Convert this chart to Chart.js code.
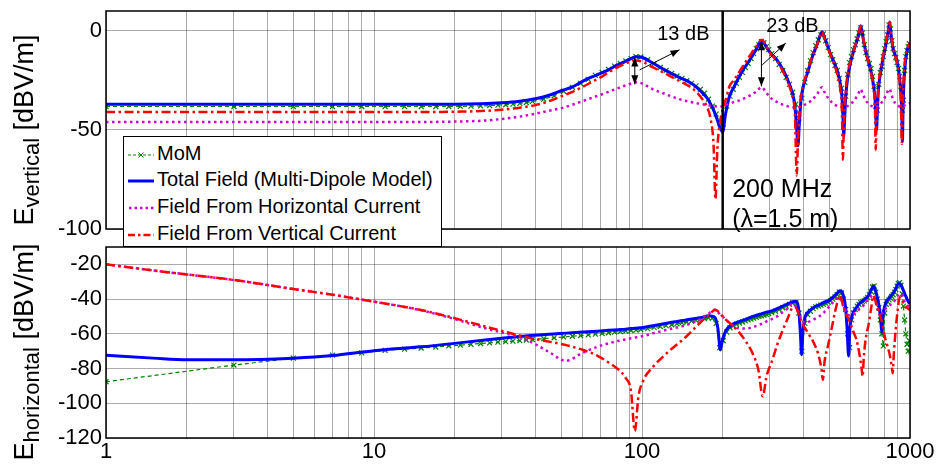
<!DOCTYPE html>
<html>
<head>
<meta charset="utf-8">
<title>E-field vs frequency</title>
<script src="https://cdn.jsdelivr.net/npm/chart.js@4/dist/chart.umd.min.js"></script>
<style>
  html, body { margin: 0; padding: 0; background: #fff; }
  #wrap { position: relative; width: 941px; height: 465px; overflow: hidden;
          font-family: "Liberation Sans", Arial, sans-serif; color: #000; }
  canvas { position: absolute; left: 0; }
  #topChart { top: 0; }
  #bottomChart { top: 240px; }
  .ytitle { position: absolute; white-space: nowrap; line-height: 1;
            transform: translate(-50%, -50%) rotate(-90deg); font-size: 27px; }
  .ytitle sub { font-size: 22px; vertical-align: -0.3em; }
  #legend { position: absolute; left: 123px; top: 136px; width: 317px; height: 109px;
            border: 1.5px solid #000; background: #fff; font-size: 20px; z-index: 5; }
  #legend .row { position: absolute; left: 4px; height: 27px; line-height: 27px; white-space: nowrap; }
  #legend svg { vertical-align: middle; margin-right: 3px; }
</style>
</head>
<body>
<div id="wrap">
  <canvas id="topChart" width="941" height="240"></canvas>
  <canvas id="bottomChart" width="941" height="225"></canvas>
  <div class="ytitle" style="left:27px; top:130px;">E<sub>vertical</sub> [dBV/m]</div>
  <div class="ytitle" style="left:27px; top:352px;">E<sub>horizontal</sub> [dBV/m]</div>
  <div id="legend"></div>
</div>
<script>
// ---------- data ----------
const xTickValues = [1, 2, 3, 4, 5, 6, 7, 8, 9, 10, 20, 30, 40, 50, 60, 70, 80, 90,
  100, 200, 300, 400, 500, 600, 700, 800, 900, 1000];
const xMajorTicks = [1, 10, 100, 1000];
const xTickLabels = ['1', '10', '100', '1000'];
const yTicksTop = [-100, -50, 0];
const yTicksBottom = [-120, -100, -80, -60, -40, -20];

const seriesNames = ['MoM', 'Total Field (Multi-Dipole Model)',
  'Field From Horizontal Current', 'Field From Vertical Current'];

// upper panel: E vertical (model curves)
const freqTop = [1, 2, 5, 10, 15, 20, 25, 30, 35, 40,
  45, 50, 55, 60, 65, 70, 75, 80, 85, 90,
  95, 100, 105, 110, 120, 130, 140, 150, 160, 170,
  175, 180, 185, 188, 191, 195, 200, 205, 212, 220,
  235, 250, 265, 280, 290, 300, 320, 340, 355, 365,
  372, 378, 382, 386, 392, 400, 415, 430, 450, 470,
  480, 495, 510, 525, 540, 550, 557, 562, 566, 570,
  576, 585, 600, 620, 640, 655, 665, 680, 700, 715,
  730, 740, 745, 750, 755, 762, 775, 790, 810, 830,
  840, 850, 865, 880, 900, 915, 925, 932, 937, 942,
  950, 965, 980, 1000];
const totalTop = [-37, -37, -37, -37, -37, -37, -36.8, -36.3, -35.5, -34.3,
  -32.5, -30.2, -28.3, -25.5, -23.3, -21.5, -19.7, -17.6, -16, -14.3,
  -13.1, -13.3, -14.8, -16.4, -19.3, -21.8, -24, -25.8, -28.5, -32,
  -34, -36.8, -40, -42.5, -45, -48.5, -51, -42, -33, -28.5,
  -21, -15.5, -10, -5, -7.8, -10.8, -15, -21, -27, -32,
  -38, -50, -58, -48, -35, -28, -21, -14, -7, -0.5,
  -3.5, -8.5, -13, -17, -22, -27, -33, -42, -53, -45,
  -33, -24, -16, -9, -3, 2.5, -2, -9, -15.5, -20.5,
  -27, -34, -42, -50, -42, -30, -22, -15, -8, 0,
  4.5, -2, -9, -12, -17, -24, -32, -42, -56, -40,
  -25, -14, -9, -6];
const horizTop = [-46, -46, -46, -46, -46, -45.8, -45.4, -44.5, -43.3, -41.8,
  -40.3, -39, -37.3, -35.5, -33.8, -32.3, -30.8, -29.3, -28, -26.8,
  -26, -26.5, -28, -29.5, -31.5, -33.3, -34.8, -35.7, -36.5, -37.2,
  -37.5, -37.8, -38, -38.1, -38.2, -38.2, -38, -37.5, -36.8, -36,
  -34.8, -33, -31, -28.5, -31, -33.5, -36, -37.6, -38.3, -38.6,
  -38.7, -38.7, -38.6, -38.5, -38.2, -37.6, -36.6, -35, -32, -28.5,
  -31, -34, -36, -37.4, -38, -38.3, -38.4, -38.4, -38.4, -38.3,
  -38.2, -38, -37, -35, -32, -29.5, -31.5, -34.5, -36.8, -37.8,
  -38.2, -38.3, -38.3, -38.2, -38.1, -37.8, -37, -35.5, -33, -30,
  -29.3, -31.5, -34.5, -36.5, -37.8, -38.2, -38.3, -38.3, -38.2, -38.1,
  -37.8, -37.2, -36.8, -36.5];
const vertTop = [-41, -41, -41, -41, -41, -40.8, -40.5, -39.8, -38.8, -37.5,
  -35.5, -33, -30.8, -28.3, -25.8, -23.5, -21, -18.8, -17, -15.6,
  -15, -15.5, -17, -18.5, -21, -23.5, -25.8, -28, -31, -35.5,
  -38.5, -44, -58, -85, -60, -47, -40, -35, -28, -25,
  -19, -13.5, -8.5, -4.5, -7.5, -11, -15.5, -22, -28, -34,
  -42, -73, -55, -44, -33, -27, -20, -13.5, -7, -0.5,
  -4, -9, -13.5, -18, -24, -30, -40, -65, -50, -40,
  -30, -22, -15, -8.5, -3, 2.5, -2, -9, -16, -21,
  -29, -38, -60, -45, -38, -28, -20, -14, -7, 0.5,
  4.5, -2, -9, -12.5, -18, -26, -36, -57, -45, -32,
  -20, -12, -8.5, -6];

// lower panel: E horizontal (model curves)
const freqBottom = [1, 1.5, 2, 3, 5, 7, 10, 15, 20, 26,
  30, 35, 40, 45, 52, 60, 68, 75, 82, 87,
  91, 94, 97, 101, 110, 125, 146, 165, 178, 187,
  192, 196, 200, 206, 215, 230, 245, 260, 272, 282,
  292, 305, 320, 335, 350, 365, 375, 385, 390, 394,
  398, 405, 420, 440, 455, 467, 473, 480, 495, 510,
  525, 540, 548, 560, 575, 583, 590, 596, 610, 630,
  645, 660, 666, 672, 685, 700, 715, 730, 740, 755,
  770, 780, 785, 792, 805, 820, 840, 855, 862, 870,
  885, 900, 915, 930, 945, 960, 975, 990, 1000];
const totalBottom = [-72.3, -74, -75, -75, -74, -72.5, -69.7, -67.5, -65.5, -63.5,
  -62.5, -61.5, -60.8, -60.2, -59.6, -59, -58.5, -58, -57.6, -57.3,
  -57, -56.8, -56.6, -56.3, -55.3, -53.8, -52, -50.8, -49.6, -50.5,
  -57, -69.3, -63, -58, -55, -53, -51.5, -50, -49, -48.2,
  -47.5, -46.8, -45.5, -44, -42.8, -41.5, -41.2, -47, -60, -72,
  -60, -51, -47, -44.5, -43.5, -42.7, -42.2, -41.7, -41, -39.5,
  -37.8, -36, -35.2, -36.5, -45, -58, -72.8, -58, -49, -45,
  -42.8, -41.5, -41, -40.5, -39.5, -38, -35, -32.5, -34, -39,
  -46, -55, -59, -50, -44, -41, -39, -37.5, -37, -36,
  -34, -31.5, -31, -32.5, -35, -37.5, -40, -42, -42.5];
const horizBottom = [-20, -23.5, -25.8, -29, -34.2, -37.5, -41.5, -46.5, -51.5, -56.8,
  -59.3, -62, -66, -70.5, -75.5, -71, -67.5, -65.5, -64, -63.2,
  -62.6, -62.2, -61.8, -61.3, -59.7, -57.5, -55, -51.5, -48.2, -46,
  -47.5, -49, -50, -52, -54.5, -56.8, -57, -56, -55, -54,
  -52.8, -51.5, -49.8, -47.5, -45.3, -42.5, -44.5, -48, -50, -51.5,
  -52.5, -53.5, -53, -51.5, -50.2, -49, -48.2, -47.3, -45, -42.8,
  -40.5, -38.8, -39.5, -43, -47, -48.5, -49.2, -49.5, -49, -47.5,
  -46, -44.8, -44.4, -43.5, -41.5, -40, -38.5, -37.7, -40.5, -45,
  -47.5, -48.2, -48.2, -47.5, -46, -44.8, -43.5, -42.8, -42.5, -41.8,
  -39.8, -38, -36.8, -37.5, -40, -42, -43.5, -44, -44.3];
const vertBottom = [-20, -23.5, -25.8, -29, -34.2, -37.5, -41.5, -46.3, -51, -55.8,
  -58.3, -61, -63, -64.5, -66.5, -69.2, -72.5, -76.5, -80.8, -85.5,
  -93, -116, -96, -87, -79, -70.5, -61.7, -53.5, -49, -46.3,
  -47, -48.5, -50, -52, -54.5, -59, -64.8, -72, -81, -96,
  -84, -76, -66, -58, -51, -45, -45, -49, -51, -53,
  -54.5, -56.5, -60.5, -66, -72, -80, -86.5, -76, -66.5, -57,
  -47.5, -40, -37.7, -42.5, -48, -50, -51.5, -53, -57.5, -63,
  -70, -80, -84.6, -74, -62, -55, -46, -38, -40, -45,
  -49, -51.5, -53, -56, -61.5, -66, -72, -79, -82.7, -72,
  -57, -46, -39, -40, -42.5, -44, -45, -45.8, -46.3];

// MoM reference samples (both panels share the frequencies)
const freqMoM = [1, 3, 5, 7, 9, 11, 13, 15, 17, 19, 21, 23, 25, 27, 29, 31, 33, 35, 37, 39,
  43, 47, 51, 55, 59, 63, 67, 71, 75, 79, 83, 87, 91, 95, 99,
  105, 111, 117, 123, 129, 135, 141, 147, 153, 159, 165, 171, 177, 183, 189, 195,
  201, 207, 213, 219, 225, 231, 237, 243, 249, 255, 261, 267, 273, 279, 285, 291, 297,
  305, 315, 325, 335, 345, 355, 365, 375, 385, 395, 405, 415, 425, 435, 445, 455, 465, 475, 485, 495,
  505, 515, 525, 535, 545, 555, 565, 575, 585, 595, 605, 615, 625, 635, 645, 655, 665, 675, 685, 695,
  705, 715, 725, 735, 745, 755, 765, 775, 785, 795, 805, 815, 825, 835, 845, 855, 865, 875, 885, 895,
  905, 915, 925, 935, 945, 955, 965, 975, 985, 995];
const momTop = [-38.2, -38.2, -38.2, -38.2, -38.2, -38.2, -38.2, -38.2, -38.2, -38.2,
  -38.1, -38, -37.9, -37.7, -37.5, -37.3, -37, -36.6, -36.2, -35.6,
  -34.5, -32.8, -30.5, -28.5, -26.5, -24.5, -22.5, -21, -19.5, -17.8, -16.5, -15.2, -14, -13, -13.2,
  -14.5, -16.6, -18.5, -20, -21.5, -22.8, -24, -25.2, -26.5, -27.8, -29.5, -31.5, -34.5, -38, -42, -46.5,
  -47, -38, -33, -29.5, -26.5, -23.5, -21, -18.5, -16.5, -14, -11.5, -9, -7, -5.5, -6, -8, -9.5,
  -11.5, -14, -17, -20, -23.5, -27, -31, -37, -44, -34, -26, -20, -15, -11, -7.5, -4.5, -2, -1.5, -5, -8.5,
  -12, -14.5, -17.5, -20, -24, -29, -42, -33, -22, -16, -13, -9.5, -7, -4, -1, 1.5, -1, -7, -11, -14,
  -16.5, -19, -23, -28, -38, -40, -27, -21, -18, -13, -9, -5.5, -2, 3, 1, -5, -9, -11.5, -13.5, -16,
  -19, -23, -28, -40, -35, -20, -13, -10, -8, -6.5];
const momBottom = [-87.6, -78, -74, -72.3, -71, -69.5, -68.8, -68.2, -67.6, -67,
  -66.5, -66, -65.6, -65.2, -64.8, -64.5, -64.2, -63.9, -63.6, -63.3,
  -62.8, -62.3, -61.8, -61.4, -61, -60.6, -60.2, -59.8, -59.4, -59, -58.7, -58.4, -58.1, -57.8, -57.5,
  -57, -56.3, -55.8, -55.3, -54.8, -54.2, -53.7, -53.2, -52.7, -52.2, -51.7, -51.2, -50.8, -51, -54, -68,
  -64, -59, -56.5, -55.5, -54.5, -53.8, -53.2, -52.6, -52, -51.5, -51, -50.5, -50, -49.6, -49.2, -48.8, -48.4,
  -47.8, -47, -46, -45, -44, -43, -42.2, -42, -48, -70, -54, -49, -47, -45.5, -44.5, -44, -43.5, -43, -42.5, -41.8,
  -41, -40, -38.8, -37.5, -36, -36.5, -40, -46, -60, -68, -52, -48, -46, -44, -43, -42, -41.5, -41, -40, -39,
  -37.5, -35.5, -33, -32.5, -36, -40, -45, -52, -60, -67, -48, -43, -41.5, -40.5, -39.5, -38.5, -37.5, -36, -34.5, -32.5,
  -31, -30.5, -32, -37, -44, -52, -60, -66, -70, -64];

// ---------- styling ----------
const GRID = 'rgba(0,0,0,0.33)';
const FONT = '"Liberation Sans", Arial, sans-serif';
const TICK_FONT = { family: FONT, size: 22, lineHeight: 1 };
const STYLE = [
  { color: '#008000', width: 1.2, dash: [4, 3], order: 4 },
  { color: '#0000ff', width: 3, dash: [], order: 3 },
  { color: '#d000d0', width: 2.5, dash: [2.5, 3.5], order: 2 },
  { color: '#ff0000', width: 2.5, dash: [9, 3.5, 2.5, 3.5], order: 1 }
];

function toPoints(xs, ys) {
  return xs.map((x, i) => ({ x: x, y: ys[i] }));
}

function makeDatasets(mom, freq, total, horiz, vert) {
  const sets = [toPoints(freqMoM, mom), toPoints(freq, total), toPoints(freq, horiz), toPoints(freq, vert)];
  return sets.map((pts, i) => {
    const s = STYLE[i];
    const isMoM = i === 0;
    return {
      label: seriesNames[i],
      data: pts,
      borderColor: s.color,
      borderWidth: s.width,
      borderDash: s.dash,
      order: s.order,
      fill: false,
      cubicInterpolationMode: isMoM ? 'default' : 'monotone',
      tension: 0,
      pointRadius: isMoM ? 3.5 : 0,
      pointStyle: 'crossRot',
      pointBorderColor: s.color,
      pointBorderWidth: 1.2,
      pointBackgroundColor: 'transparent'
    };
  });
}

// black box round the plot area
const framePlugin = {
  id: 'frame',
  afterDatasetsDraw(chart) {
    const a = chart.chartArea, ctx = chart.ctx;
    ctx.save();
    ctx.strokeStyle = '#000';
    ctx.lineWidth = 1.5;
    ctx.strokeRect(a.left, a.top, a.right - a.left, a.bottom - a.top);
    ctx.restore();
  }
};

function arrowHead(ctx, x1, y1, x2, y2) {
  const ang = Math.atan2(y2 - y1, x2 - x1), L = 9, W = 3.5;
  const bx = x2 - L * Math.cos(ang), by = y2 - L * Math.sin(ang);
  ctx.beginPath();
  ctx.moveTo(x2, y2);
  ctx.lineTo(bx + W * Math.sin(ang), by - W * Math.cos(ang));
  ctx.lineTo(bx - W * Math.sin(ang), by + W * Math.cos(ang));
  ctx.closePath();
  ctx.fill();
}

function arrow(ctx, x1, y1, x2, y2, both) {
  ctx.beginPath();
  ctx.moveTo(x1, y1);
  ctx.lineTo(x2, y2);
  ctx.stroke();
  arrowHead(ctx, x1, y1, x2, y2);
  if (both) arrowHead(ctx, x2, y2, x1, y1);
}

// annotations of the upper panel (positions given in data units)
const notesPlugin = {
  id: 'notes',
  afterDatasetsDraw(chart) {
    const { ctx, chartArea: a } = chart;
    const X = v => chart.scales.x.getPixelForValue(v);
    const Y = v => chart.scales.y.getPixelForValue(v);
    ctx.save();
    // 200 MHz marker
    ctx.strokeStyle = '#000';
    ctx.lineWidth = 2.5;
    ctx.beginPath();
    ctx.moveTo(X(200), a.top);
    ctx.lineTo(X(200), a.bottom);
    ctx.stroke();

    ctx.lineWidth = 1;
    ctx.fillStyle = '#000';
    arrow(ctx, X(94), Y(-13.5), X(94), Y(-27), true);
    arrow(ctx, X(98), Y(-19.7), X(138), Y(-9.6), false);
    arrow(ctx, X(279), Y(-5.3), X(279), Y(-28), true);
    arrow(ctx, X(281), Y(-17.2), X(344), Y(-6.2), false);

    ctx.textBaseline = 'middle';
    ctx.textAlign = 'left';
    ctx.font = '20px ' + FONT;
    ctx.fillText('13 dB', X(114), Y(-2));
    ctx.fillText('23 dB', X(291), Y(2));
    ctx.font = '25px ' + FONT;
    ctx.fillText('200 MHz', X(217), Y(-80.3));
    ctx.fillText('(\u03bb=1.5 m)', X(217), Y(-95.5));
    ctx.restore();
  }
};

function buildChart(canvasId, datasets, cfg) {
  return new Chart(document.getElementById(canvasId), {
    type: 'line',
    data: { datasets: datasets },
    options: {
      responsive: false,
      animation: false,
      devicePixelRatio: 1,
      layout: { padding: cfg.padding },
      plugins: { legend: { display: false }, tooltip: { enabled: false } },
      scales: {
        x: {
          type: 'logarithmic',
          min: 1,
          max: 1000,
          afterBuildTicks: s => { s.ticks = xTickValues.map(v => ({ value: v })); },
          afterFit: s => { s.height = cfg.xHeight; s.paddingLeft = 0; s.paddingRight = 0; },
          grid: { color: GRID, lineWidth: 1, drawTicks: false },
          border: { display: false },
          ticks: {
            display: cfg.showX,
            autoSkip: false,
            maxRotation: 0,
            padding: 3,
            color: '#000',
            font: TICK_FONT,
            callback: v => {
              const i = xMajorTicks.indexOf(v);
              return i >= 0 ? xTickLabels[i] : '';
            }
          }
        },
        y: {
          type: 'linear',
          min: cfg.yMin,
          max: cfg.yMax,
          afterBuildTicks: s => { s.ticks = cfg.yTicks.map(v => ({ value: v })); },
          afterFit: s => { s.width = 106; s.paddingTop = 0; s.paddingBottom = 0; },
          grid: { color: GRID, lineWidth: 1, drawTicks: false },
          border: { display: false },
          ticks: { padding: 4, color: '#000', font: TICK_FONT, callback: v => String(v) }
        }
      }
    },
    plugins: [framePlugin].concat(cfg.extra || [])
  });
}

buildChart('topChart', makeDatasets(momTop, freqTop, totalTop, horizTop, vertTop), {
  padding: { left: 0, top: 11, right: 31, bottom: 11 },
  xHeight: 0, showX: false, yMin: -100, yMax: 10, yTicks: yTicksTop, extra: [notesPlugin]
});

buildChart('bottomChart', makeDatasets(momBottom, freqBottom, totalBottom, horizBottom, vertBottom), {
  padding: { left: 0, top: 7, right: 31, bottom: 0 },
  xHeight: 27, showX: true, yMin: -120, yMax: -10, yTicks: yTicksBottom
});

// ---------- legend (spans both panels) ----------
const legendSamples = [
  '<line x1="0" y1="6" x2="26" y2="6" stroke="#008000" stroke-width="1" stroke-dasharray="3,2"/>' +
    '<path d="M10.5 3.5 L15.5 8.5 M15.5 3.5 L10.5 8.5" stroke="#008000" stroke-width="1"/>',
  '<line x1="0" y1="6" x2="26" y2="6" stroke="#0000ff" stroke-width="3"/>',
  '<line x1="1" y1="6" x2="26" y2="6" stroke="#d000d0" stroke-width="2.5" stroke-dasharray="2.5,3"/>',
  '<line x1="0" y1="6" x2="26" y2="6" stroke="#ff0000" stroke-width="2.5" stroke-dasharray="7,3,2.5,3"/>'
];
const legendRowTops = [3, 29, 56, 83];
const legend = document.getElementById('legend');
seriesNames.forEach((name, i) => {
  const row = document.createElement('div');
  row.className = 'row';
  row.style.top = legendRowTops[i] + 'px';
  row.innerHTML = '<svg width="26" height="12">' + legendSamples[i] + '</svg>' + name;
  legend.appendChild(row);
});
</script>
</body>
</html>
